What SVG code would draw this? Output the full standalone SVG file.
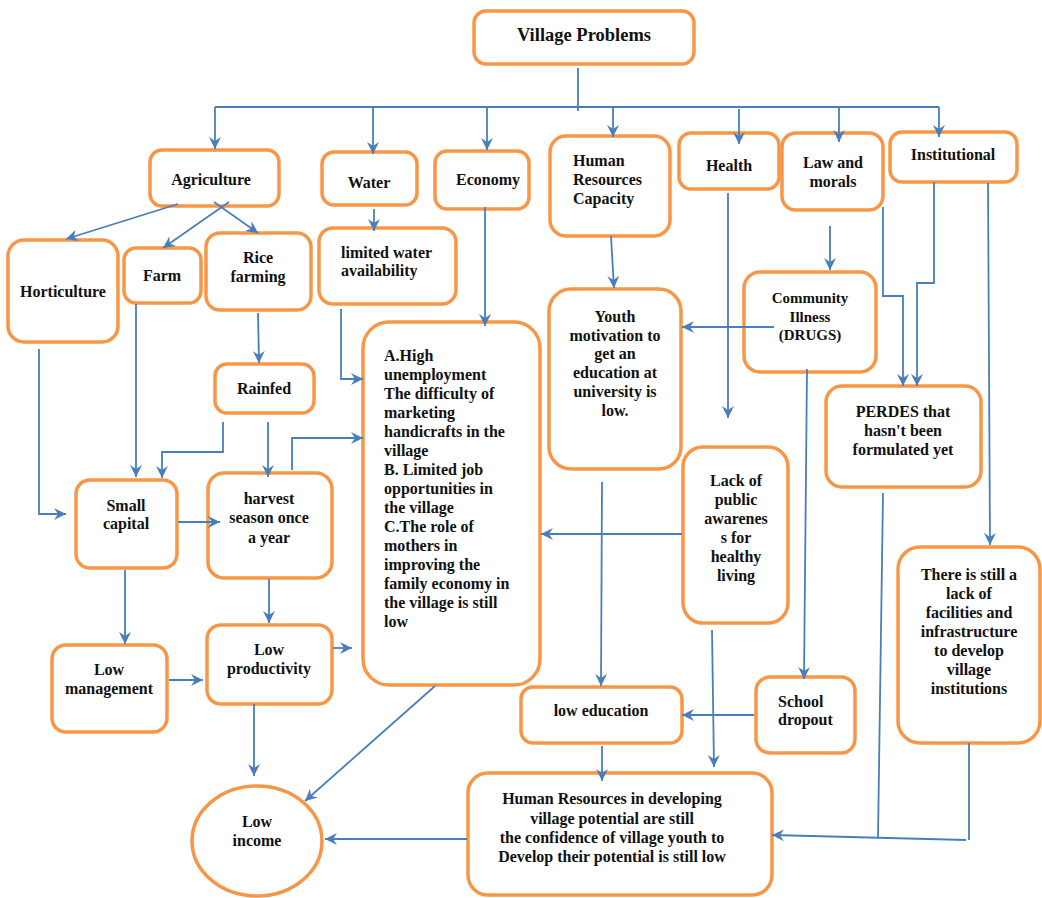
<svg xmlns="http://www.w3.org/2000/svg" width="1042" height="898" viewBox="0 0 1042 898">
<style>
.n{fill:#fff;stroke:#F79646;stroke-width:3.5}
.t{font-family:"Liberation Serif",serif;font-weight:bold;font-size:16px;fill:#111}
.c{text-anchor:middle}
.l{fill:none;stroke:#4A7EBB;stroke-width:1.8}
.a{marker-end:url(#ah)}
</style>
<defs>
<marker id="ah" markerUnits="userSpaceOnUse" markerWidth="13" markerHeight="12" refX="12" refY="6" orient="auto">
<path d="M0,0 L12,6 L0,12 L4,6 z" fill="#4A7EBB"/>
</marker>
</defs>
<rect width="1042" height="898" fill="#fff"/>
<g id="village-problems"><rect class="n" x="474" y="11" width="220" height="53" rx="12"/><text class="t c" x="584" y="41" style="font-size:18.5px">Village Problems</text></g>
<g id="agriculture"><rect class="n" x="150" y="150" width="129" height="56" rx="12"/><text class="t c" x="211" y="185">Agriculture</text></g>
<g id="water"><rect class="n" x="322" y="152" width="95" height="53" rx="12"/><text class="t c" x="369" y="188">Water</text></g>
<g id="economy"><rect class="n" x="435" y="151" width="94" height="58" rx="12"/><text class="t c" x="488" y="185">Economy</text></g>
<g id="hr-capacity"><rect class="n" x="550" y="136" width="120" height="100" rx="16"/><text class="t" x="573" y="166">Human</text><text class="t" x="573" y="185">Resources</text><text class="t" x="573" y="204">Capacity</text></g>
<g id="health"><rect class="n" x="679" y="133" width="100" height="56" rx="12"/><text class="t c" x="729" y="171">Health</text></g>
<g id="law"><rect class="n" x="782" y="133" width="101" height="77" rx="14"/><text class="t c" x="833" y="168">Law and</text><text class="t c" x="833" y="187">morals</text></g>
<g id="institutional"><rect class="n" x="890" y="132" width="127" height="50" rx="12"/><text class="t c" x="953" y="160">Institutional</text></g>
<g id="horticulture"><rect class="n" x="8" y="240" width="110" height="102" rx="16"/><text class="t c" x="63" y="297">Horticulture</text></g>
<g id="farm"><rect class="n" x="124" y="248" width="77" height="55" rx="12"/><text class="t c" x="162" y="281">Farm</text></g>
<g id="rice"><rect class="n" x="206" y="233" width="105" height="77" rx="14"/><text class="t c" x="258" y="263">Rice</text><text class="t c" x="258" y="282">farming</text></g>
<g id="limited-water"><rect class="n" x="319" y="228" width="137" height="76" rx="14"/><text class="t" x="341" y="258">limited water</text><text class="t" x="341" y="276">availability</text></g>
<g id="economy-problems"><rect class="n" x="363" y="322" width="177" height="363" rx="26"/>
<text class="t" x="384" y="361">A.High</text><text class="t" x="384" y="380">unemployment</text><text class="t" x="384" y="399">The difficulty of</text><text class="t" x="384" y="418">marketing</text><text class="t" x="384" y="437">handicrafts in the</text><text class="t" x="384" y="456">village</text><text class="t" x="384" y="475">B. Limited job</text><text class="t" x="384" y="494">opportunities in</text><text class="t" x="384" y="513">the village</text><text class="t" x="384" y="532">C.The role of</text><text class="t" x="384" y="551">mothers in</text><text class="t" x="384" y="570">improving the</text><text class="t" x="384" y="589">family economy in</text><text class="t" x="384" y="608">the village is still</text><text class="t" x="384" y="627">low</text></g>
<g id="youth"><rect class="n" x="549" y="289" width="132" height="180" rx="22"/><text class="t c" x="615" y="322">Youth</text><text class="t c" x="615" y="341">motivation to</text><text class="t c" x="615" y="359">get an</text><text class="t c" x="615" y="378">education at</text><text class="t c" x="615" y="397">university is</text><text class="t c" x="615" y="416">low.</text></g>
<g id="community"><rect class="n" x="744" y="272" width="132" height="100" rx="16"/><text class="t c" x="810" y="303" style="font-size:15px">Community</text><text class="t c" x="810" y="322" style="font-size:15px">Illness</text><text class="t c" x="810" y="340" style="font-size:15px">(DRUGS)</text></g>
<g id="perdes"><rect class="n" x="826" y="386" width="155" height="101" rx="16"/><text class="t c" x="903" y="417">PERDES that</text><text class="t c" x="903" y="436">hasn't been</text><text class="t c" x="903" y="455">formulated yet</text></g>
<g id="rainfed"><rect class="n" x="215" y="364" width="99" height="49" rx="12"/><text class="t c" x="264" y="394">Rainfed</text></g>
<g id="small-capital"><rect class="n" x="76" y="480" width="101" height="88" rx="14"/><text class="t c" x="126" y="511">Small</text><text class="t c" x="126" y="529">capital</text></g>
<g id="harvest"><rect class="n" x="208" y="473" width="124" height="105" rx="16"/><text class="t c" x="269" y="504">harvest</text><text class="t c" x="269" y="523">season once</text><text class="t c" x="269" y="543">a year</text></g>
<g id="public-awareness"><rect class="n" x="683" y="447" width="105" height="176" rx="20"/><text class="t c" x="736" y="486">Lack of</text><text class="t c" x="736" y="505">public</text><text class="t c" x="736" y="524">awarenes</text><text class="t c" x="736" y="543">s for</text><text class="t c" x="736" y="562">healthy</text><text class="t c" x="736" y="581">living</text></g>
<g id="facilities"><rect class="n" x="898" y="547" width="142" height="196" rx="22"/><text class="t c" x="969" y="580">There is still a</text><text class="t c" x="969" y="599">lack of</text><text class="t c" x="969" y="618">facilities and</text><text class="t c" x="969" y="637">infrastructure</text><text class="t c" x="969" y="656">to develop</text><text class="t c" x="969" y="675">village</text><text class="t c" x="969" y="694">institutions</text></g>
<g id="low-management"><rect class="n" x="52" y="645" width="115" height="87" rx="14"/><text class="t c" x="109" y="675">Low</text><text class="t c" x="109" y="694">management</text></g>
<g id="low-productivity"><rect class="n" x="207" y="625" width="125" height="79" rx="14"/><text class="t c" x="269" y="655">Low</text><text class="t c" x="269" y="674">productivity</text></g>
<g id="low-education"><rect class="n" x="521" y="687" width="161" height="56" rx="12"/><text class="t c" x="601" y="716">low education</text></g>
<g id="school-dropout"><rect class="n" x="756" y="677" width="99" height="76" rx="14"/><text class="t" x="778" y="707">School</text><text class="t" x="778" y="725">dropout</text></g>
<g id="hr-developing"><rect class="n" x="468" y="773" width="304" height="122" rx="20"/><text class="t c" x="612" y="804">Human Resources in developing</text><text class="t c" x="612" y="824">village potential are still</text><text class="t c" x="612" y="843">the confidence of village youth to</text><text class="t c" x="612" y="862">Develop their potential is still low</text></g>
<g id="low-income"><ellipse class="n" cx="257" cy="841" rx="65" ry="55"/><text class="t c" x="257" y="827">Low</text><text class="t c" x="257" y="846">income</text></g>
<g id="connectors">
<path class="l" d="M578,68 V111"/>
<path class="l" d="M215,107 H939"/>
<path class="l a" d="M215,107 V149"/>
<path class="l a" d="M373,107 V154"/>
<path class="l a" d="M487,107 V150"/>
<path class="l a" d="M613,107 V137"/>
<path class="l a" d="M739,109 V144"/>
<path class="l a" d="M839,107 V142"/>
<path class="l a" d="M939,107 V137"/>
<path class="l a" d="M178,204 L66,239"/>
<path class="l a" d="M229,202 L163,248"/>
<path class="l a" d="M214,202 L258,233"/>
<path class="l a" d="M374,209 V231"/>
<path class="l a" d="M485,207 V326"/>
<path class="l a" d="M341,309 V379 H363"/>
<path class="l a" d="M611,236 L614,288"/>
<path class="l a" d="M728,193 V418"/>
<path class="l a" d="M830,226 V270"/>
<path class="l a" d="M774,327 H682"/>
<path class="l a" d="M883,207 V296 H903 V386"/>
<path class="l a" d="M934,182 V283 H917 V386"/>
<path class="l a" d="M988,183 L990,545"/>
<path class="l a" d="M807,369 L804,679"/>
<path class="l" d="M883,493 L878,838"/>
<path class="l" d="M969,743 V840"/>
<path class="l a" d="M966,840 L772,835"/>
<path class="l a" d="M602,482 L601,686"/>
<path class="l a" d="M682,534 H541"/>
<path class="l a" d="M712,630 L714,767"/>
<path class="l a" d="M754,715 H682"/>
<path class="l a" d="M602,746 V781"/>
<path class="l a" d="M467,839 H325"/>
<path class="l a" d="M435,686 L305,801"/>
<path class="l a" d="M254,704 V776"/>
<path class="l a" d="M333,648 H352"/>
<path class="l a" d="M169,680 H203"/>
<path class="l a" d="M125,570 V644"/>
<path class="l a" d="M269,579 V623"/>
<path class="l a" d="M178,522 H220"/>
<path class="l a" d="M39,349 V514 H66"/>
<path class="l a" d="M136,304 V477"/>
<path class="l a" d="M223,422 V452 H162 V478"/>
<path class="l a" d="M268,422 V477"/>
<path class="l a" d="M258,313 L259,363"/>
<path class="l a" d="M292,470 V438 H363"/>
</g>
</svg>
